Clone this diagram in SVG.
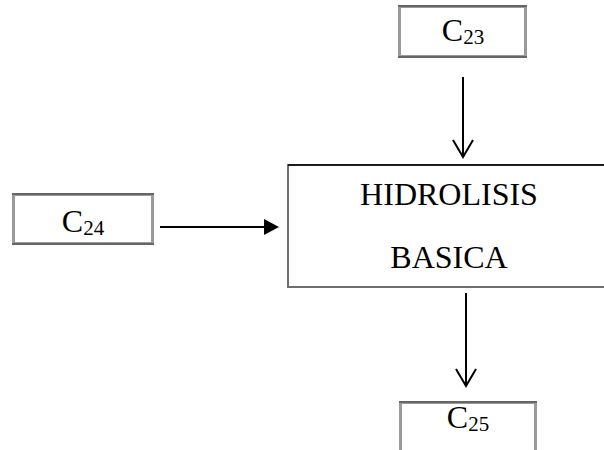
<svg xmlns="http://www.w3.org/2000/svg" width="604" height="450" viewBox="0 0 604 450">
  <defs>
    <style>
      .box { fill: #ffffff; stroke: #9a9a9a; stroke-width: 3; }
      .edge { stroke: #555555; stroke-width: 1.5; fill: none; }
      .main { fill: #ffffff; stroke: #6e6e6e; stroke-width: 2; }
      .lbl { font-family: "Liberation Serif", "Times New Roman", serif; font-size: 32px; fill: #000000; }
      .sub { font-size: 21px; }
      .wire { stroke: #000000; stroke-width: 2; fill: none; }
      .open { stroke: #000000; stroke-width: 2; fill: none; stroke-linejoin: miter; }
    </style>
  </defs>

  <!-- stream C23 -->
  <g id="c23">
    <rect class="box" x="399.5" y="6.5" width="126" height="50"/>
    <line class="edge" x1="398" y1="6" x2="527" y2="6"/>
    <line class="edge" x1="398" y1="57" x2="527" y2="57"/>
    <text class="lbl" x="463" y="41" text-anchor="middle">C<tspan class="sub" dy="3">23</tspan></text>
  </g>

  <!-- stream C24 -->
  <g id="c24">
    <rect class="box" x="13.5" y="194.5" width="139" height="49"/>
    <line class="edge" x1="12" y1="194" x2="154" y2="194"/>
    <line class="edge" x1="12" y1="244" x2="154" y2="244"/>
    <text class="lbl" x="83" y="232" text-anchor="middle">C<tspan class="sub" dy="3">24</tspan></text>
  </g>

  <!-- process block -->
  <g id="hidrolisis">
    <rect class="main" x="288" y="165" width="330" height="122"/>
    <line x1="288" y1="165" x2="604" y2="165" stroke="#000" stroke-width="1.5"/>
    <text class="lbl" x="449" y="205" text-anchor="middle">HIDROLISIS</text>
    <text class="lbl" x="449" y="268" text-anchor="middle">BASICA</text>
  </g>

  <!-- stream C25 -->
  <g id="c25">
    <rect class="box" x="400.5" y="402.5" width="135" height="60"/>
    <line class="edge" x1="399" y1="402" x2="537" y2="402"/>
    <text class="lbl" x="468" y="428" text-anchor="middle">C<tspan class="sub" dy="3">25</tspan></text>
  </g>

  <!-- connectors -->
  <g id="connectors">
    <line class="wire" x1="463" y1="77" x2="463" y2="157"/>
    <polyline class="open" points="453,140 463,157 473,140"/>

    <line class="wire" x1="160" y1="227" x2="266" y2="227"/>
    <polygon points="264,219 279,227 264,235" fill="#000"/>

    <line class="wire" x1="466" y1="293" x2="466" y2="386"/>
    <polyline class="open" points="456,369 466,386 476,369"/>
  </g>
</svg>
